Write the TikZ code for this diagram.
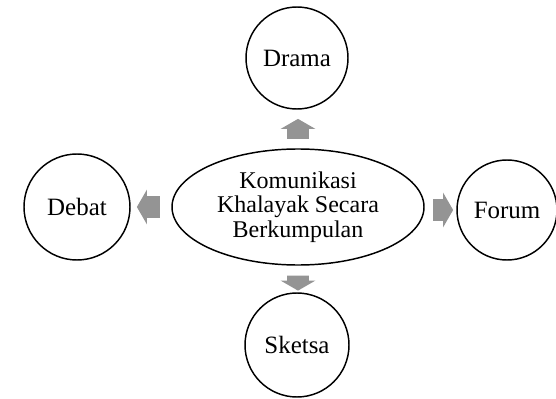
\documentclass[tikz,border=0pt]{standalone}
\usepackage{fontspec}
\setmainfont{Liberation Serif}
\usetikzlibrary{shapes.geometric,shapes.arrows}
\begin{document}
\begin{tikzpicture}[x=0.75pt,y=-0.75pt,
    bubble/.style={circle,draw,line width=1.1pt,minimum size=#1*1.5pt,inner sep=0pt,
      font=\fontsize{18.7}{19}\selectfont},
    blockarrow/.style={single arrow,fill=black!42,draw=none,inner xsep=0pt,inner ysep=7.9pt,
      single arrow head extend=4.9pt,single arrow tip angle=120,minimum height=#1*0.75pt}]
  \useasboundingbox (0,0) rectangle (556,399);
  \node[ellipse,draw,line width=1.1pt,minimum width=189pt,minimum height=87pt,align=center,
    font=\fontsize{18}{18.5}\selectfont] (center) at (298,207)
    {Komunikasi\\Khalayak Secara\\Berkumpulan};
  \node[bubble=51] (drama) at (297,58) {Drama};
  \node[bubble=53] (debat) at (77,207) {Debat};
  \node[bubble=50] (forum) at (507,210) {Forum};
  \node[bubble=52] (sketsa) at (297,345) {Sketsa};
  % arrows
  \node[blockarrow=20,rotate=90] (up) at (298,132) {};
  \node[blockarrow=23,rotate=180] (left) at (151.5,207) {};
  \node[blockarrow=20] (right) at (440,210) {};
  \node[blockarrow=15,rotate=-90] (down) at (298,280) {};
\end{tikzpicture}
\end{document}
